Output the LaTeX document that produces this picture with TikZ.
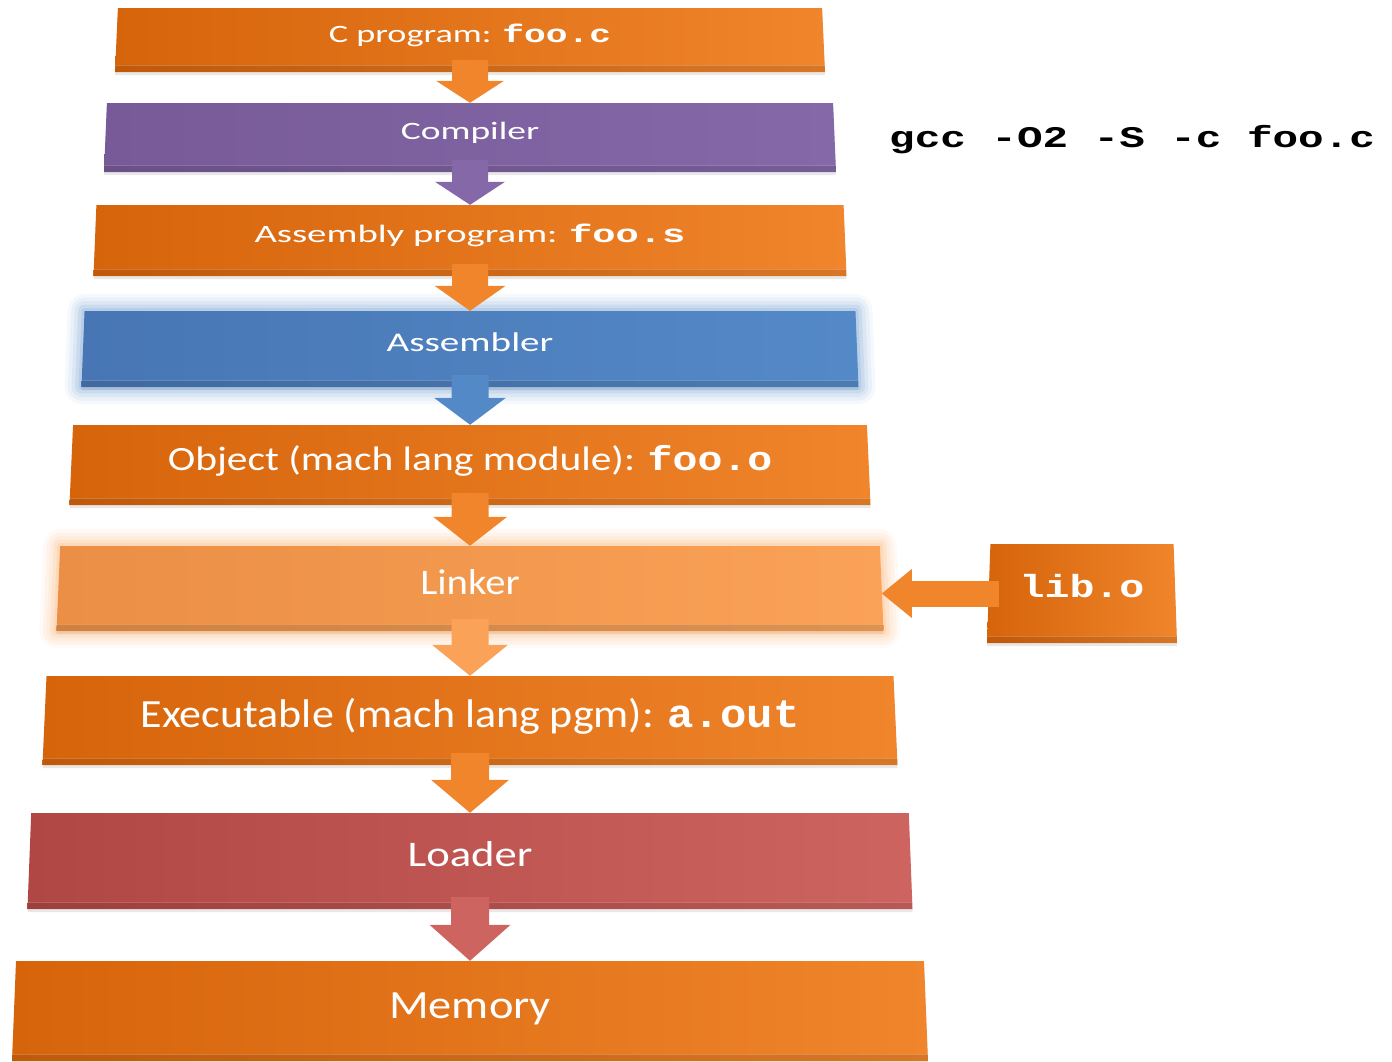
\documentclass[tikz,border=0pt]{standalone}
\usepackage{fontspec}
\setmainfont{Carlito}
\setmonofont{Liberation Mono}
\usepackage{graphicx}
\usetikzlibrary{shapes.geometric, arrows.meta, shadows}

\definecolor{orangeL}{HTML}{D6640B}
\definecolor{orangeR}{HTML}{F0852B}
\definecolor{purpleL}{HTML}{775A97}
\definecolor{purpleR}{HTML}{8568A8}
\definecolor{blueL}{HTML}{4876B4}
\definecolor{blueR}{HTML}{5489C8}
\definecolor{linkL}{HTML}{EA8F45}
\definecolor{linkR}{HTML}{FAA257}
\definecolor{redL}{HTML}{B14745}
\definecolor{redR}{HTML}{CE645F}

% text of a stage: size, horizontal stretch, text
\newcommand\stagetext[3]{\fontsize{#1}{#1}\selectfont
  \rule[-\dimexpr0.1em+12pt\relax]{0pt}{\dimexpr0.85em+12pt\relax}\scalebox{#2}[1]{#3}}
\newcommand\code[1]{{\ttfamily\bfseries #1}}

\tikzset{
  stage/.style n args={4}{trapezium, trapezium angle=85,
    trapezium stretches body=true,
    inner sep=0pt, text=white, left color=#1, right color=#2,
    minimum width=#3, minimum height=#4,
    drop shadow={shadow xshift=0pt, shadow yshift=-3pt, opacity=.18},
    path picture={
      \fill[black, opacity=.10] ([yshift=7pt]path picture bounding box.south west)
        rectangle (path picture bounding box.south east);
      \draw[white, opacity=.2, line width=1pt]
        ([yshift=7pt]path picture bounding box.south west)
        -- ([yshift=7pt]path picture bounding box.south east);
    }},
  glow/.style={line join=round,
    preaction={draw=#1, line width=34pt, opacity=.06},
    preaction={draw=#1, line width=27pt, opacity=.07},
    preaction={draw=#1, line width=20pt, opacity=.09},
    preaction={draw=#1, line width=13pt, opacity=.12},
    preaction={draw=#1, line width=6pt, opacity=.16}},
  pipe/.style n args={4}{draw=#1, line width=#2,
    -{Triangle[width=#3, length=#4, line width=0pt]}}
}

\begin{document}
\begin{tikzpicture}[x=1pt, y=-1pt]
  \useasboundingbox (0,0) rectangle (1392,1061);
  % ==== STAGES ====
  \node[stage={orangeL}{orangeR}{710pt}{64pt}] (cprog) at (470,40)
    {\stagetext{25}{1.45}{C program: \code{foo.c}}};
  \node[stage={purpleL}{purpleR}{732pt}{69pt}] (comp) at (470,137.5)
    {\stagetext{25}{1.5}{Compiler}};
  \node[stage={orangeL}{orangeR}{753pt}{71pt}] (asmp) at (470,240.5)
    {\stagetext{25}{1.55}{Assembly program: \code{foo.s}}};
  \node[stage={blueL}{blueR}{777pt}{76pt}, glow=blueR] (asmb) at (470,349)
    {\stagetext{27}{1.45}{Assembler}};
  \node[stage={orangeL}{orangeR}{801pt}{80pt}] (obj) at (470,465)
    {\stagetext{34}{1.22}{Object (mach lang module): \code{foo.o}}};
  \node[stage={linkL}{linkR}{827pt}{85pt}, glow=linkR] (link) at (470,588.5)
    {\stagetext{36}{1.13}{Linker}};
  \node[stage={orangeL}{orangeR}{855pt}{89pt}] (exe) at (470,720.5)
    {\stagetext{40}{1.1}{Executable (mach lang pgm): \code{a.out}}};
  \node[stage={redL}{redR}{885pt}{96pt}] (load) at (470,861)
    {\stagetext{36}{1.24}{Loader}};
  \node[stage={orangeL}{orangeR}{916pt}{100pt}] (mem) at (470,1011)
    {\stagetext{40}{1.16}{Memory}};

  % ==== LIBRARY ====
  \node[stage={orangeL}{orangeR}{190pt}{99pt}] (lib) at (1082,593.5)
    {\stagetext{32}{1.3}{\code{lib.o}}};

  % ==== COMMAND ====
  \node[anchor=west, inner sep=0pt] (gcc) at (889,140)
    {\fontsize{30}{30}\selectfont\scalebox{1.42}[1]{\code{gcc -O2 -S -c foo.c}}};

  % ==== ARROWS ====
  \foreach \from/\to/\col/\shaft/\hw/\hl in {cprog/comp/orangeR/36/68/22,
      comp/asmp/purpleR/36/70/23, asmp/asmb/orangeR/36/71/25,
      asmb/obj/blueR/37/72/27, obj/link/orangeR/37/74/29,
      link/exe/linkR/37/76/31, exe/load/orangeR/38/78/33,
      load/mem/redR/38/81/36}
    \draw[pipe={\col}{\shaft pt}{\hw pt}{\hl pt}] ([yshift=12pt]\from.south) -- (\to.north);
  \draw[pipe={orangeR}{26pt}{49pt}{30pt}] ([xshift=10pt]lib.west) -- (lib.west -| link.east);
\end{tikzpicture}
\end{document}
